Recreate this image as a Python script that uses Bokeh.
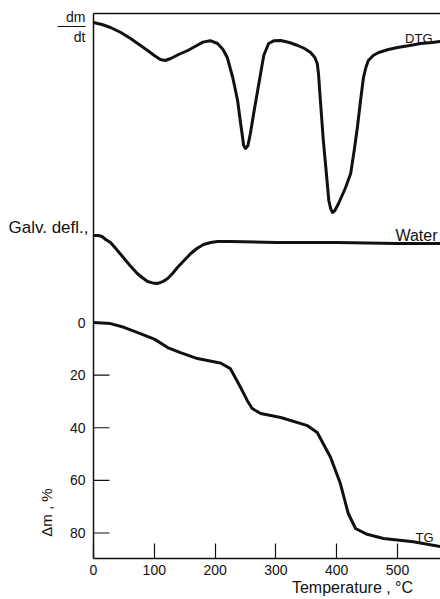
from bokeh.plotting import figure
from bokeh.models import Range1d, LinearAxis, FixedTicker, Label
from bokeh.embed import file_html
from bokeh.resources import INLINE

# ---- data ----
# TG: mass loss (%) vs temperature (°C)
tg_temp = [0, 28, 50, 77, 100, 122, 143, 171, 204, 209, 225, 242, 253, 261, 275, 308, 352, 368, 390, 406, 419, 431, 450, 477, 526, 571]
tg_loss = [0, 0.4, 1.8, 4.2, 6.3, 9.5, 11.4, 13.7, 15.2, 15.4, 17.5, 24.7, 29.7, 32.7, 34.6, 36.1, 39.2, 41.8, 51.3, 61.2, 72.6, 78.3, 80.5, 82.1, 83.3, 85.2]

# DTG: rate of mass change (arbitrary units, 0 = top of chart)
dtg_temp = [0, 14, 28, 45, 61, 75, 89, 100, 110, 118, 127, 140, 155, 170, 180, 192, 204, 213, 220, 229, 237, 242, 247, 250,
            254, 258, 264, 270, 276, 280, 288, 297, 308, 322, 336, 347, 357, 364, 368, 370, 374, 378, 383, 387, 390, 393,
            397, 403, 414, 423, 429, 434, 439, 444, 448, 452, 460, 469, 485, 500, 520, 538, 557, 571]
dtg_rate = [-4.5, -5.5, -7, -9.5, -12.5, -15.5, -18.5, -21, -23, -23.5, -22.5, -20.5, -18.5, -16, -14.3, -13.6, -15, -18, -22,
            -32, -43.5, -55, -66, -67.5, -66, -60, -49, -38.5, -28, -21, -15, -13.6, -13.5, -14.5, -16, -17.5, -19.5, -22,
            -25, -30, -47, -63.5, -80, -93.5, -97.5, -99.5, -98.5, -95, -87.5, -80, -68, -57, -44, -32, -27, -23.5, -21,
            -19.5, -18, -17, -16, -15, -14.5, -14]

# Water: galvanometer deflection (arbitrary units, 0 = baseline)
water_temp = [0, 8, 14, 20, 28, 38, 49, 60, 72, 80, 89, 97, 105, 113, 122, 130, 138, 149, 160, 170, 181, 193, 204, 225, 300, 400, 500, 571]
water_defl = [3.5, 3.5, 3, 1.5, 0, -3.5, -7.5, -11.5, -15.5, -17.5, -19.5, -20.2, -20.5, -19.7, -18, -15.5, -12.5, -9, -5.5,
              -3, -1, 0, 0.5, 0.5, 0, 0, -0.5, -0.5]

x_ticks = [0, 100, 200, 300, 400, 500]
y_ticks = [0, 20, 40, 60, 80]

FONT = "Liberation Sans"
INK = "#111111"

p = figure(width=440, height=599, output_backend="svg", toolbar_location=None,
           x_range=Range1d(0, 570.7), y_range=Range1d(89.7, -117.5),
           min_border_left=93, min_border_right=0, min_border_top=13, min_border_bottom=41)
p.grid.visible = False
p.outline_line_color = None
p.background_fill_color = "white"
p.border_fill_color = "white"

p.extra_y_ranges = {"dtg": Range1d(-272.5, 0), "water": Range1d(-158, 114.5)}

# ---- axes ----
for ax in (p.xaxis[0], p.yaxis[0]):
    ax.axis_line_width = 1.5
    ax.axis_line_color = INK
    ax.major_tick_line_color = INK
    ax.major_tick_line_width = 1.2
    ax.major_tick_out = 0
    ax.minor_tick_line_color = None
    ax.major_label_text_font = FONT
    ax.major_label_text_font_size = "14px"
    ax.major_label_text_color = INK

p.xaxis.ticker = FixedTicker(ticks=x_ticks)
p.xaxis.major_tick_in = 15
p.xaxis.major_label_standoff = 6

# left axis carries the TG numbers plus the dm/dt caption
dm_pos, bar_pos, dt_pos = -116.0, -113.3, -108.7
yax = p.yaxis[0]
yax.ticker = FixedTicker(ticks=y_ticks + [dm_pos, bar_pos, dt_pos])
yax.major_label_overrides = {dm_pos: "dm", bar_pos: "——", dt_pos: "dt"}
yax.major_tick_line_color = None
yax.major_label_standoff = 8


def caption_axis(pos, text, size, standoff, orientation="horizontal"):
    return LinearAxis(ticker=FixedTicker(ticks=[pos]), major_label_overrides={pos: text},
                      major_label_orientation=orientation, axis_line_color=None, major_tick_line_color=None,
                      minor_tick_line_color=None, major_label_text_font=FONT, major_label_text_font_size=size,
                      major_label_text_color=INK, major_label_standoff=standoff, major_tick_out=0, major_tick_in=0)


# vertical caption of the TG axis
p.add_layout(caption_axis(72.2, "Δm , %", "15px", -1, "vertical"), "left")
# caption of the water curve
p.add_layout(caption_axis(-36.1, "Galv. defl.,", "17px", -53), "left")
# x axis title, right-hand side
p.add_layout(caption_axis(426, "Temperature , °C", "16px", 1), "below")

# top frame line
top = LinearAxis(ticker=FixedTicker(ticks=[]), axis_line_width=1.5, axis_line_color=INK,
                 major_tick_line_color=None, minor_tick_line_color=None,
                 major_label_standoff=0, major_tick_out=0, major_tick_in=0)
p.add_layout(top, "above")

# inward ticks of the TG axis (16 px long)
tick_len = 16 / (347 / 570.7)
p.segment(x0=[0] * len(y_ticks), y0=y_ticks, x1=[tick_len] * len(y_ticks), y1=y_ticks,
          line_color=INK, line_width=1.2)

# ---- curves ----
style = dict(line_width=3, line_color=INK, line_join="round", line_cap="round")
p.line(dtg_temp, dtg_rate, y_range_name="dtg", **style)
p.line(water_temp, water_defl, y_range_name="water", **style)
p.line(tg_temp, tg_loss, **style)

# ---- curve names ----
def lab(x, y, text, size, rng="default"):
    p.add_layout(Label(x=x, y=y, text=text, text_font=FONT, text_font_size=size, text_color=INK,
                       text_align="right", text_baseline="alphabetic", y_range_name=rng))

lab(557.6, -12.5, "DTG", "13px", rng="dtg")
lab(565.8, 3.5, "Water", "16px", rng="water")
lab(559.2, 81.7, "TG", "13px")

open("out.html", "w").write(file_html(p, INLINE))
